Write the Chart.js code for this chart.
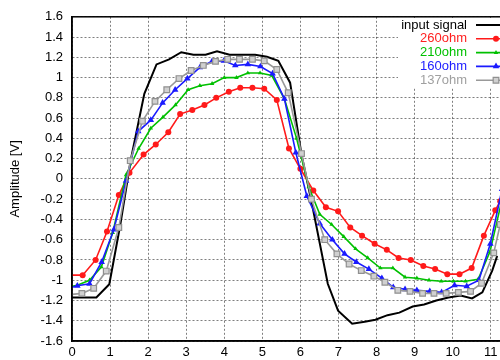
<!DOCTYPE html>
<html>
<head>
<meta charset="utf-8">
<script src="https://cdn.jsdelivr.net/npm/chart.js@4/dist/chart.umd.min.js"></script>
<style>
  html, body { margin: 0; padding: 0; background: #fff; overflow: hidden; width: 500px; height: 360px; }
  #wrap { position: absolute; left: 0; top: 0; width: 540px; height: 360px; }
</style>
</head>
<body>
<div id="wrap"><canvas id="c" width="540" height="360"></canvas></div>
<script>
// ---- data (time axis unit as in reference, amplitude in V) ----
const xTicks = [0, 1, 2, 3, 4, 5, 6, 7, 8, 9, 10, 11, 12];
const yTicks = [-1.6, -1.4, -1.2, -1, -0.8, -0.6, -0.4, -0.2, 0, 0.2, 0.4, 0.6, 0.8, 1, 1.2, 1.4, 1.6];
const yTitle = "Amplitude [V]";
const seriesNames = ["input signal", "260ohm", "210ohm", "160ohm", "137ohm"];

const inputX = [0, 0.64, 0.98, 1.27, 1.55, 1.90, 2.22, 2.55, 2.87, 3.19, 3.51, 3.81, 4.14, 4.45, 4.81, 5.12, 5.42, 5.73, 6.03, 6.29, 6.72, 6.99, 7.36, 7.69, 7.97, 8.29, 8.60, 8.95, 9.25, 9.57, 9.89, 10.21, 10.51, 10.78, 11.04, 11.17];
const inputY = [-1.17, -1.17, -1.04, -0.45, 0.20, 0.84, 1.13, 1.18, 1.25, 1.225, 1.225, 1.26, 1.225, 1.225, 1.225, 1.205, 1.165, 0.95, 0.24, -0.22, -1.035, -1.30, -1.43, -1.41, -1.39, -1.345, -1.32, -1.26, -1.24, -1.20, -1.17, -1.15, -1.18, -1.12, -0.905, -0.76];

const r260X = [0, 0.28, 0.62, 0.92, 1.23, 1.51, 1.88, 2.20, 2.53, 2.84, 3.16, 3.48, 3.79, 4.12, 4.42, 4.74, 5.05, 5.38, 5.70, 6.00, 6.34, 6.67, 6.99, 7.31, 7.62, 7.95, 8.27, 8.58, 8.90, 9.23, 9.54, 9.86, 10.18, 10.50, 10.82, 11.12, 11.25];
const r260Y = [-0.95, -0.95, -0.80, -0.52, -0.16, 0.06, 0.24, 0.34, 0.46, 0.64, 0.68, 0.73, 0.80, 0.86, 0.90, 0.90, 0.89, 0.78, 0.30, 0.10, -0.115, -0.28, -0.32, -0.48, -0.56, -0.64, -0.70, -0.78, -0.80, -0.86, -0.89, -0.94, -0.94, -0.88, -0.56, -0.31, -0.22];

const r210X = [0, 0.14, 0.46, 0.77, 1.07, 1.42, 1.75, 2.07, 2.39, 2.72, 3.05, 3.36, 3.68, 4.00, 4.32, 4.62, 4.94, 5.25, 5.58, 5.90, 6.22, 6.51, 6.82, 7.14, 7.45, 7.77, 8.10, 8.43, 8.75, 9.06, 9.38, 9.70, 10.02, 10.34, 10.67, 10.98, 11.30];
const r210Y = [-1.06, -1.05, -1.00, -0.87, -0.53, 0.04, 0.30, 0.50, 0.61, 0.73, 0.88, 0.92, 0.94, 1.00, 1.00, 1.045, 1.045, 1.02, 0.79, 0.40, -0.08, -0.35, -0.45, -0.57, -0.69, -0.78, -0.88, -0.88, -0.97, -0.98, -1.00, -1.01, -1.01, -1.01, -0.99, -0.72, -0.20];

const r160X = [0, 0.14, 0.46, 0.78, 1.10, 1.42, 1.74, 2.07, 2.38, 2.71, 3.03, 3.36, 3.68, 3.99, 4.29, 4.62, 4.95, 5.27, 5.58, 5.88, 6.17, 6.51, 6.84, 7.16, 7.47, 7.80, 8.14, 8.44, 8.75, 9.06, 9.40, 9.71, 10.05, 10.37, 10.69, 10.99, 11.30];
const r160Y = [-1.07, -1.055, -1.035, -0.82, -0.50, -0.02, 0.47, 0.58, 0.75, 0.88, 0.99, 1.10, 1.16, 1.165, 1.12, 1.13, 1.11, 1.04, 0.79, 0.26, -0.17, -0.44, -0.60, -0.74, -0.82, -0.89, -0.98, -1.07, -1.09, -1.10, -1.11, -1.12, -1.05, -1.06, -1.00, -0.64, -0.10];

const r137X = [0, 0.26, 0.57, 0.90, 1.23, 1.53, 1.85, 2.18, 2.49, 2.81, 3.13, 3.45, 3.77, 4.09, 4.40, 4.74, 5.05, 5.38, 5.68, 6.03, 6.29, 6.64, 6.96, 7.28, 7.60, 7.93, 8.22, 8.56, 8.88, 9.21, 9.51, 9.83, 10.15, 10.47, 10.76, 11.08, 11.25];
const r137Y = [-1.14, -1.13, -1.08, -0.91, -0.48, 0.18, 0.57, 0.765, 0.88, 0.99, 1.07, 1.12, 1.16, 1.18, 1.18, 1.18, 1.165, 1.08, 0.85, 0.25, -0.20, -0.60, -0.74, -0.84, -0.905, -0.96, -1.02, -1.10, -1.11, -1.13, -1.13, -1.13, -1.12, -1.11, -1.03, -0.73, -0.45];

const toPts = (xs, ys) => xs.map((x, i) => ({ x: x, y: ys[i] }));
const FONT = "'Liberation Sans', Arial, Helvetica, sans-serif";

function firstHidden(n, r) { return Array.from({ length: n }, (_, i) => (i === 0 ? 0 : r)); }

const datasets = [
  { label: seriesNames[0], data: toPts(inputX, inputY), borderColor: '#000000', backgroundColor: '#000000',
    borderWidth: 2, pointRadius: 0, order: 5, textColor: '#000000' },
  { label: seriesNames[1], data: toPts(r260X, r260Y), borderColor: '#ff1a1a', backgroundColor: '#ff1a1a',
    borderWidth: 1.6, pointStyle: 'circle', pointRadius: firstHidden(r260X.length, 3), pointBorderWidth: 0, order: 4, textColor: '#ff2020' },
  { label: seriesNames[2], data: toPts(r210X, r210Y), borderColor: '#00c000', backgroundColor: '#00c000',
    borderWidth: 1.6, pointStyle: 'triangle', pointRadius: firstHidden(r210X.length, 2.6), pointBorderWidth: 0, order: 3, textColor: '#00c000' },
  { label: seriesNames[3], data: toPts(r160X, r160Y), borderColor: '#1a1aff', backgroundColor: '#1a1aff',
    borderWidth: 1.6, pointStyle: 'triangle', pointRadius: firstHidden(r160X.length, 3.8), pointBorderWidth: 0, order: 2, textColor: '#2020ff' },
  { label: seriesNames[4], data: toPts(r137X, r137Y), borderColor: '#999999', backgroundColor: '#d0d0d0',
    borderWidth: 1.6, pointStyle: 'rect', pointRadius: firstHidden(r137X.length, 4), pointBorderWidth: 1.2, pointBorderColor: '#909090', order: 1, textColor: '#a0a0a0' }
];
datasets.forEach(d => { d.fill = false; d.tension = 0; d.pointHoverRadius = 0; });

const frameAndKey = {
  id: 'frameAndKey',
  afterDatasetsDraw(chart) {
    const { ctx, chartArea: a } = chart;
    ctx.save();
    // opaque key background (gnuplot "key opaque")
    const textRight = 467, lineL = 476, lineR = 514, y0 = 25, dy = 13.8;
    ctx.fillStyle = '#ffffff';
    ctx.fillRect(398, 18, a.right - 4 - 398, 70);
    // frame
    ctx.strokeStyle = '#000';
    ctx.lineWidth = 1.5;
    ctx.strokeRect(a.left, a.top, a.right - a.left, a.bottom - a.top);
    // key entries
    ctx.font = '13px ' + FONT;
    ctx.textAlign = 'right';
    ctx.textBaseline = 'middle';
    chart.data.datasets.forEach((d, i) => {
      const y = y0 + i * dy;
      ctx.fillStyle = d.textColor;
      ctx.fillText(d.label, textRight, y);
      ctx.strokeStyle = d.borderColor;
      ctx.lineWidth = d.borderWidth;
      ctx.beginPath(); ctx.moveTo(lineL, y); ctx.lineTo(lineR, y); ctx.stroke();
      const r = Array.isArray(d.pointRadius) ? d.pointRadius[1] : d.pointRadius;
      if (r > 0) {
        ctx.fillStyle = d.backgroundColor;
        ctx.strokeStyle = d.pointBorderColor || d.borderColor;
        ctx.lineWidth = d.pointBorderWidth || 0;
        Chart.helpers.drawPoint(ctx, { pointStyle: d.pointStyle, radius: r, rotation: 0, borderWidth: d.pointBorderWidth || 0 }, (lineL + lineR) / 2 + 1, y);
      }
    });
    ctx.restore();
  }
};

const gridOpts = { color: 'rgba(0,0,0,0.5)', lineWidth: 1, drawTicks: false, tickLength: 0 };

new Chart(document.getElementById('c'), {
  type: 'line',
  data: { datasets: datasets },
  plugins: [frameAndKey],
  options: {
    responsive: false,
    animation: false,
    events: [],
    layout: { padding: { top: 14, right: 8, left: 0, bottom: 0 } },
    plugins: { legend: { display: false }, tooltip: { enabled: false } },
    scales: {
      x: {
        type: 'linear', min: 0, max: 12,
        afterBuildTicks: s => { s.ticks = xTicks.map(v => ({ value: v })); },
        afterFit: s => { s.height = 19; },
        ticks: { autoSkip: false, maxRotation: 0, padding: 4, color: '#000', font: { family: FONT, size: 13 }, callback: v => String(v) },
        grid: gridOpts,
        border: { display: true, color: '#000', width: 1.5, dash: [2, 2] }
      },
      y: {
        type: 'linear', min: -1.6, max: 1.6,
        afterBuildTicks: s => { s.ticks = yTicks.map(v => ({ value: v })); },
        afterFit: s => { s.width = 72; },
        ticks: { autoSkip: false, padding: 9, color: '#000', font: { family: FONT, size: 13 }, callback: v => String(Math.round(v * 10) / 10) },
        grid: gridOpts,
        border: { display: true, color: '#000', width: 1.5, dash: [2, 2] },
        title: { display: true, text: yTitle, color: '#000', font: { family: FONT, size: 13 }, padding: { top: 8, bottom: 0 } }
      }
    }
  }
});
</script>
</body>
</html>
